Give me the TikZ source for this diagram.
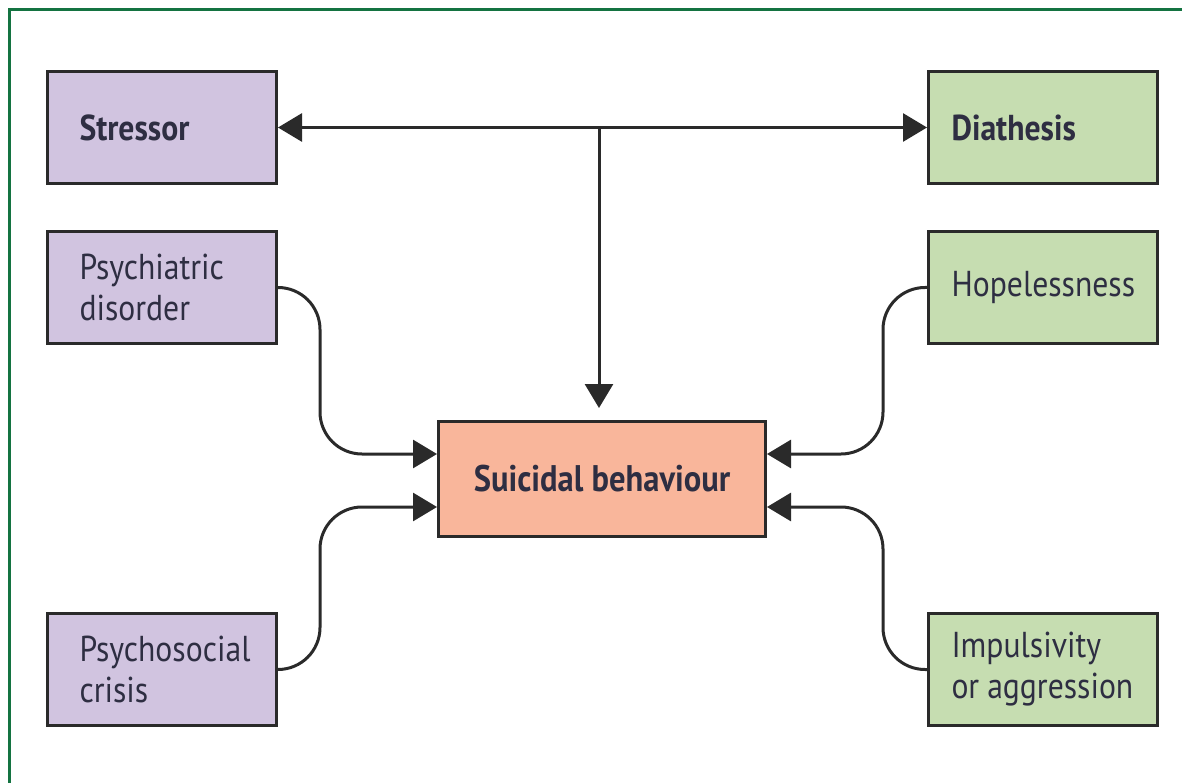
\documentclass[tikz,border=0pt]{standalone}
\usepackage{fontspec}
\setmainfont{PT Sans}[FakeStretch=0.88]
\usetikzlibrary{arrows.meta}
\hyphenpenalty=10000
\exhyphenpenalty=10000
\definecolor{lav}{HTML}{D1C4E0}
\definecolor{sage}{HTML}{C6DDB1}
\definecolor{salmon}{HTML}{F9B69B}
\definecolor{edge}{HTML}{2A2A2A}
\definecolor{ink}{HTML}{2E2E42}
\definecolor{framegreen}{RGB}{20,115,65}
\begin{document}
\begin{tikzpicture}[x=1pt,y=-1pt,
  box/.style={draw=edge, line width=3pt, minimum width=229pt, minimum height=112pt,
    anchor=north west, align=left, text=ink, font=\fontsize{36}{41}\selectfont},
  lbox/.style={box, fill=lav, inner xsep=32pt, text width=165pt},
  rbox/.style={box, fill=sage, inner xsep=23pt, text width=183pt},
  conn/.style={draw=edge, line width=3pt, -{Triangle[length=24pt,width=28pt]}},
  conn2/.style={draw=edge, line width=3pt, {Triangle[length=24pt,width=28pt]}-{Triangle[length=24pt,width=28pt]}},
  curvy/.style={conn, rounded corners=42pt},
  frame/.style={draw=framegreen, line width=3pt}]
\useasboundingbox (0,0) rectangle (1182,783);
\draw[frame] (1183,10) -- (9,10) -- (9,784);

\node[lbox, font=\fontsize{36}{41}\selectfont\bfseries] (st) at (46,70) {Stressor};
\node[rbox, font=\fontsize{36}{41}\selectfont\bfseries] (di) at (927,70) {Diathesis};
\node[lbox] (pd) at (46,230) {Psychiatric\\disorder};
\node[rbox] (ho) at (927,230) {Hopelessness};
\node[lbox] (pc) at (46,612) {\mbox{Psychosocial}\\crisis};
\node[rbox] (im) at (927,612) {Impulsivity\\\mbox{or\hspace{8pt}aggression}};
\node[box, fill=salmon, minimum width=327pt, minimum height=115pt, align=center,
      font=\fontsize{37}{41}\selectfont\bfseries] (sb) at (437,420) {Suicidal behaviour};

\draw[conn2] (st.east) -- (di.west);
\coordinate (j) at (sb.north |- st.east);
\draw[conn] ([xshift=-3pt]j) -- ([xshift=-3pt,yshift=12pt]sb.north);

\draw[curvy] (pd.east) -- ++(42,0) |- ([yshift=25pt]sb.west);
\draw[curvy] (pc.east) -- ++(42,0) |- ([yshift=-28pt]sb.west);
\draw[curvy] (ho.west) -- ++(-44,0) |- ([yshift=25pt]sb.east);
\draw[curvy] (im.west) -- ++(-44,0) |- ([yshift=-28pt]sb.east);
\end{tikzpicture}
\end{document}
